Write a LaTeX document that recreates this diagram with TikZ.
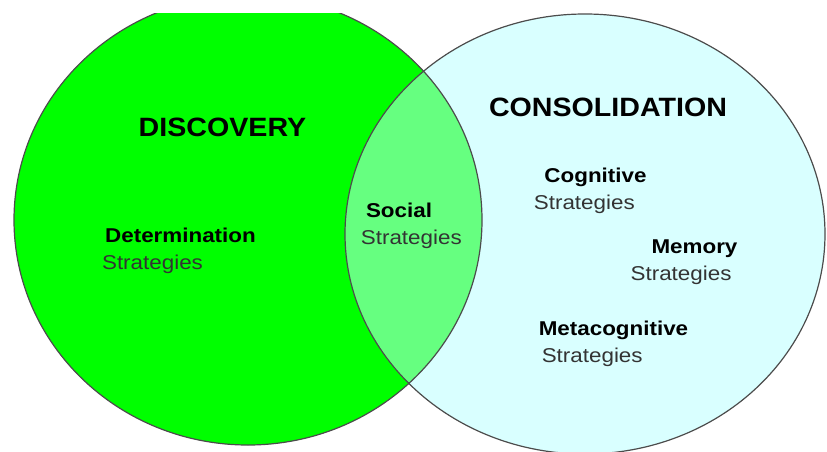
\documentclass[tikz,border=0pt]{standalone}
\usepackage{fontspec}
\setmainfont{Liberation Sans}
\usepackage{tikz}
\usetikzlibrary{positioning}
\definecolor{discoverygreen}{RGB}{0,255,0}
\definecolor{socialgreen}{RGB}{102,255,128}
\definecolor{consolidcyan}{RGB}{217,255,255}
\tikzset{%
  % Specifications for style of nodes:
        title/.style = {inner sep=0pt, text height=19pt, text depth=0pt, xscale=1.08,
                        font=\fontsize{26.5}{30}\selectfont\bfseries},
      heading/.style = {inner sep=0pt, text height=14pt, text depth=4pt, xscale=1.12,
                        font=\fontsize{20}{22}\selectfont\bfseries},
   strategies/.style = {heading, text=black!80, font=\fontsize{20}{22}\selectfont},
      outline/.style = {draw=black!70, line width=1.2pt},
}
\begin{document}
\begin{tikzpicture}[x=1pt, y=-1pt, node distance=27pt]
                    \useasboundingbox (0,0) rectangle (827,452);
                    \clip (0,14) rectangle (827,452);
                    % the two sets and their overlap
                    \fill[discoverygreen] (248,220) ellipse [x radius=234, y radius=225];
                    \fill[consolidcyan]   (585,234) ellipse [x radius=240, y radius=220];
                    \begin{scope}
                      \clip (248,220) ellipse [x radius=234, y radius=225];
                      \fill[socialgreen] (585,234) ellipse [x radius=240, y radius=220];
                    \end{scope}
                    \draw[outline] (248,220) ellipse [x radius=234, y radius=225];
                    \draw[outline] (585,234) ellipse [x radius=240, y radius=220];

                    \node (discovery)     [title]   at (222.5,126.5) {DISCOVERY};
                    \node (consolidation) [title]   at (608,106.5)   {CONSOLIDATION};
                    \node (determination) [heading] at (180.5,237)   {Determination};
                    \node (social)        [heading] at (399,212)     {Social};
                    \node (cognitive)     [heading] at (595.5,177)   {Cognitive};
                    \node (memory)        [heading] at (694.5,248)   {Memory};
                    \node (metacognitive) [heading] at (613.5,330)   {Metacognitive};

                    \node (determinationS) [strategies, below of=determination, xshift=-25pt] {Strategies};
                    \node (socialS)        [strategies, below of=social, xshift=11pt]         {Strategies};
                    \node (cognitiveS)     [strategies, below of=cognitive, xshift=-10pt]     {Strategies};
                    \node (memoryS)        [strategies, below of=memory, xshift=-12pt]        {Strategies};
                    \node (metacognitiveS) [strategies, below of=metacognitive, xshift=-19pt] {Strategies};
                \end{tikzpicture}
\end{document}
